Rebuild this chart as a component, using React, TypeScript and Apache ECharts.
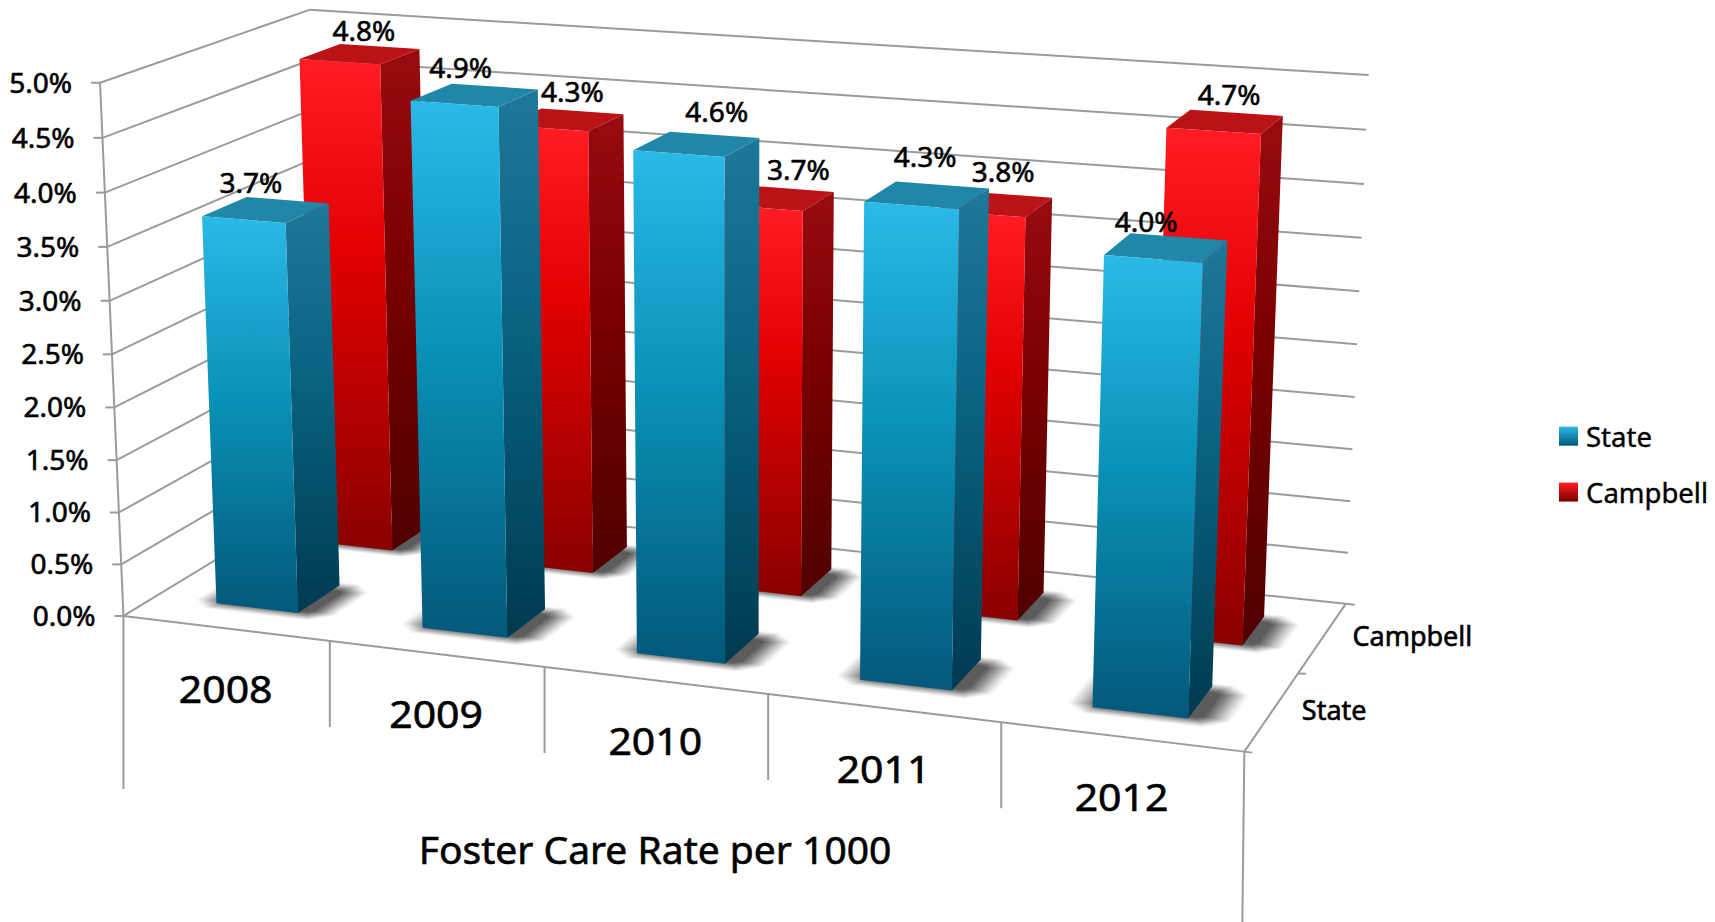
import React, { useEffect, useRef } from "react";
import * as echarts from "echarts";

const years = ["2008", "2009", "2010", "2011", "2012"];
const stateValues = [3.7, 4.9, 4.6, 4.3, 4.0];
const campbellValues = [4.8, 4.3, 3.7, 3.8, 4.7];
const valueTicks = [0, 0.5, 1, 1.5, 2, 2.5, 3, 3.5, 4, 4.5, 5];
const depthNames = ["State", "Campbell"];

// label nudges (px) relative to the centre of each bar's top face
const stateNudge = [[-15, -28], [-14, -28], [20, -33], [-2, -39], [-20, -27]];
const campbellNudge = [[4, -24], [8, -29], [23, -29], [9, -33], [4, -28]];

// Camera calibration: unit-cube corner -> screen pixel
const calib: number[][] = [
  [0, 0, 0, 123.7, 615], [0, 1, 0, 100.4, 82.7], [0, 1, 1, 309, 9.3], [1, 1, 1, 1369, 76],
  [1, 0, 1, 1346, 603], [1, 0, 0, 1245.5, 751], [0, 0, 1, 324, 495], [0, 0.5, 0, 112, 354],
  [1, 0.5, 1, 1356.5, 344], [0.2, 0, 0, 330, 642], [0.4, 0, 0, 544, 667], [0.6, 0, 0, 768, 694], [0.8, 0, 0, 1000, 723],
];

function solveCamera(pts: number[][]) {
  const n = 11;
  const A = Array.from({ length: n }, () => new Array(n + 1).fill(0));
  const add = (row: number[], b: number) => {
    for (let i = 0; i < n; i++) {
      for (let j = 0; j < n; j++) A[i][j] += row[i] * row[j];
      A[i][n] += row[i] * b;
    }
  };
  for (const [u, v, w, px, py] of pts) {
    const x = px / 1000, y = py / 1000;
    add([u, v, w, 1, 0, 0, 0, 0, -x * u, -x * v, -x * w], x);
    add([0, 0, 0, 0, u, v, w, 1, -y * u, -y * v, -y * w], y);
  }
  for (let c = 0; c < n; c++) {
    let p = c;
    for (let r = c + 1; r < n; r++) if (Math.abs(A[r][c]) > Math.abs(A[p][c])) p = r;
    [A[c], A[p]] = [A[p], A[c]];
    for (let r = 0; r < n; r++) {
      if (r === c) continue;
      const f = A[r][c] / A[c][c];
      for (let k = c; k <= n; k++) A[r][k] -= f * A[c][k];
    }
  }
  return A.map((row, i) => row[n] / row[i]);
}
const cam = solveCamera(calib);
const project = (u: number, v: number, w: number): number[] => {
  const d = cam[8] * u + cam[9] * v + cam[10] * w + 1;
  return [
    (1000 * (cam[0] * u + cam[1] * v + cam[2] * w + cam[3])) / d,
    (1000 * (cam[4] * u + cam[5] * v + cam[6] * w + cam[7])) / d,
  ];
};

const makeProjector = (params: any, api: any) => (xVal: number, value: number, w: number) => {
  const cs = params.coordSys;
  const [px, py] = api.coord([xVal, value]);
  return project((px - cs.x) / cs.width, (cs.y + cs.height - py) / cs.height, w);
};

const BAR_U0 = 0.3, BAR_U1 = 0.7;
const DEPTH: Record<string, number[]> = { State: [0.15, 0.36], Campbell: [0.64, 0.85] };
const grad = (stops: [number, string][]) =>
  new echarts.graphic.LinearGradient(0, 0, 0, 1, stops.map(([offset, color]) => ({ offset, color })));

const PALETTE: Record<string, any> = {
  State: {
    front: () => grad([[0, "#2bb9e7"], [0.45, "#0a92b8"], [1, "#03587a"]]),
    side: () => grad([[0, "#1d7899"], [0.45, "#08617f"], [1, "#003a50"]]),
    top: "#2187a9",
    legend: () => grad([[0, "#2bb9e7"], [1, "#03587a"]]),
  },
  Campbell: {
    front: () => grad([[0, "#ff1c24"], [0.4, "#e00000"], [1, "#8a0000"]]),
    side: () => grad([[0, "#980c10"], [0.4, "#7c0000"], [1, "#500000"]]),
    top: "#bb1218",
    legend: () => grad([[0, "#ff1c24"], [1, "#7a0000"]]),
  },
};

const FONT = "'Noto Sans', sans-serif";
const LINE = { stroke: "#9b9b9b", lineWidth: 2 };
const seg = (a: number[], b: number[]) => ({
  type: "line", shape: { x1: a[0], y1: a[1], x2: b[0], y2: b[1] }, style: LINE,
});
const label = (text: string, x: number, y: number, size: number, align = "center", scaleX = 1) => ({
  type: "text", x, y, scaleX,
  style: {
    text, fontFamily: FONT, fontSize: size, fill: "#000", stroke: "#000", lineWidth: 0.6,
    align, verticalAlign: "middle",
  },
});

function renderFrame(params: any, api: any) {
  const P = makeProjector(params, api);
  const children: any[] = [];
  for (const t of valueTicks) {
    const a = P(0, t, 0);
    children.push(seg(P(0, t, 1), P(5, t, 1)));
    children.push(seg(a, P(0, t, 1)));
    children.push(seg([a[0] - 9, a[1]], a));
    children.push(label(t.toFixed(1) + "%", a[0] - 28, a[1] - 1, 28, "right"));
  }
  const fl = P(0, 0, 0), fr = P(5, 0, 0), bf = P(5, 0, 1);
  children.push(seg(P(0, 5, 0), fl));
  children.push(seg(fl, fr));
  children.push(seg(fr, bf));
  children.push(seg(bf, [bf[0] + 9, bf[1] + 1]));
  children.push(seg(fl, [fl[0], fl[1] + 173]));
  children.push(seg(fr, [fr[0] - 2, 922]));
  children.push(seg(fr, [fr[0] + 8, fr[1] + 1]));
  const mid = P(5, 0, 0.5);
  children.push(seg(mid, [mid[0] + 8, mid[1]]));
  years.forEach((y, i) => {
    if (i > 0) {
      const a = P(i, 0, 0);
      children.push(seg(a, [a[0], a[1] + 86]));
    }
    const c = P(i + 0.5, 0, 0);
    children.push(label(y, c[0], c[1] + 59.5, 39, "center", 1.05));
  });
  depthNames.forEach((d, i) => {
    const c = P(5, 0, i === 0 ? 0.25 : 0.75);
    children.push(label(d, c[0] + 30, c[1] - 2, 27, "left"));
  });
  children.push(label("Foster Care Rate per 1000", 655, 848, 39));
  return { type: "group", children };
}

// Soft floor shadow: stacked translucent octagons that grow outwards
const SHADOW_LAYERS = 16;
function renderShadow(params: any, api: any) {
  const P = makeProjector(params, api);
  const i = api.value(0);
  const [w0, w1] = DEPTH[api.value(2) === 0 ? "State" : "Campbell"];
  const children: any[] = [];
  for (let k = SHADOW_LAYERS; k >= 1; k--) {
    const e = k / SHADOW_LAYERS;
    const u0 = i + BAR_U0 + 0.03 - 0.14 * e, u1 = i + BAR_U1 + 0.05 + 0.12 * e;
    const a = w0 + 0.015 - 0.055 * e, b = w1 - 0.04 + 0.06 * e;
    const cu = 0.02 + 0.07 * e, cw = 0.01 + 0.04 * e;
    const alpha = 0.03 + 0.09 * (1 - e);
    children.push({
      type: "polygon",
      shape: {
        points: [
          P(u0 + cu, 0, a), P(u1 - cu, 0, a), P(u1, 0, a + cw), P(u1, 0, b - cw),
          P(u1 - cu, 0, b), P(u0 + cu, 0, b), P(u0, 0, b - cw), P(u0, 0, a + cw),
        ],
      },
      style: { fill: `rgba(30,30,30,${alpha})` },
    });
  }
  return { type: "group", children };
}

const renderBar = (name: string) => (params: any, api: any) => {
  const P = makeProjector(params, api);
  const i = api.value(0), val = api.value(1);
  const [w0, w1] = DEPTH[name];
  const pal = PALETTE[name];
  const u0 = i + BAR_U0, u1 = i + BAR_U1;
  const poly = (points: number[][], fill: any) => ({ type: "polygon", shape: { points }, style: { fill } });
  return {
    type: "group",
    children: [
      poly([P(u1, 0, w0), P(u1, 0, w1), P(u1, val, w1), P(u1, val, w0)], pal.side()),
      poly([P(u0, val, w0), P(u1, val, w0), P(u1, val, w1), P(u0, val, w1)], pal.top),
      poly([P(u0, 0, w0), P(u1, 0, w0), P(u1, val, w0), P(u0, val, w0)], pal.front()),
    ],
  };
};

const renderLabels = (name: string, nudge: number[][]) => (params: any, api: any) => {
  const P = makeProjector(params, api);
  const i = api.value(0), val = api.value(1);
  const [w0, w1] = DEPTH[name];
  const c = P(i + (BAR_U0 + BAR_U1) / 2, val, (w0 + w1) / 2);
  return label(val.toFixed(1) + "%", c[0] + nudge[i][0], c[1] + nudge[i][1], 28);
};

const base = { type: "custom", coordinateSystem: "cartesian2d", clip: false, silent: true };
const rows = (vals: number[], d = 0) => vals.map((v, i) => [i, v, d]);

export default function App() {
  const ref = useRef<HTMLDivElement>(null);
  useEffect(() => {
    document.body.style.margin = "0";
    const chart = echarts.init(ref.current!, undefined, { renderer: "svg" });
    chart.setOption({
      animation: false,
      backgroundColor: "#fff",
      grid: { left: 0, right: 0, top: 0, bottom: 0 },
      xAxis: { type: "value", min: 0, max: 5, interval: 1, show: false },
      yAxis: { type: "value", min: 0, max: 5, interval: 0.5, show: false },
      legend: {
        data: ["State", "Campbell"], orient: "vertical", left: 1559, top: 422, icon: "rect",
        itemWidth: 19, itemHeight: 19, itemGap: 27.5, padding: 0, selectedMode: false,
        textStyle: { fontFamily: FONT, fontSize: 27.5, color: "#000", padding: [0, 0, 0, 3], textBorderColor: "#000", textBorderWidth: 0.4 },
      },
      series: [
        { ...base, name: "frame", data: [[0, 0]], renderItem: renderFrame, z: 1 },
        { ...base, name: "shadowCampbell", data: rows(campbellValues, 1), renderItem: renderShadow, z: 2 },
        { ...base, name: "Campbell", data: rows(campbellValues), renderItem: renderBar("Campbell"), itemStyle: { color: PALETTE.Campbell.legend() }, z: 3 },
        { ...base, name: "shadowState", data: rows(stateValues, 0), renderItem: renderShadow, z: 4 },
        { ...base, name: "State", data: rows(stateValues), renderItem: renderBar("State"), itemStyle: { color: PALETTE.State.legend() }, z: 5 },
        { ...base, name: "labelsCampbell", data: rows(campbellValues), renderItem: renderLabels("Campbell", campbellNudge), z: 6 },
        { ...base, name: "labelsState", data: rows(stateValues), renderItem: renderLabels("State", stateNudge), z: 7 },
      ],
    });
    return () => chart.dispose();
  }, []);
  return <div ref={ref} style={{ width: 1715, height: 922, position: "absolute", left: 0, top: 0 }} />;
}
